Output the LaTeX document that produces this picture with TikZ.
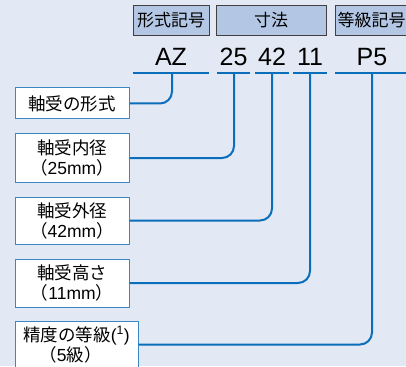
\documentclass[tikz,border=0pt]{standalone}
\usepackage{fontspec}
\setmainfont{Noto Sans CJK JP}
\newfontfamily\lat{Liberation Sans}
\definecolor{bg}{HTML}{E3E9F4}
\definecolor{hdr}{HTML}{B3C7E5}
\definecolor{ln}{HTML}{0A6EBB}
\definecolor{bx}{HTML}{3B87C6}
\begin{document}
\begin{tikzpicture}[x=1pt,y=-1pt,
  hdrbox/.style={draw=black!75, fill=hdr, line width=0.8pt, minimum height=30pt, inner sep=0pt, font=\fontsize{17}{17}\selectfont},
  code/.style={inner sep=0pt, font=\lat\fontsize{25}{25}\selectfont},
  lbl/.style={draw=bx, fill=white, line width=1pt, minimum width=114pt, inner sep=0pt, align=center, font=\fontsize{17.5}{20}\selectfont},
  uline/.style={draw=ln, line width=2pt},
  conn/.style={draw=ln, line width=2pt, rounded corners=12pt}]
\fill[bg] (0,0) rectangle (406,366);
\useasboundingbox (0,0) rectangle (406,366);
% header boxes
\node[hdrbox, minimum width=76pt] (h1) at (171,20) {形式記号};
\node[hdrbox, minimum width=110pt] (h2) at (271,20) {寸法};
\node[hdrbox, minimum width=73pt] (h3) at (371.5,20) {等級記号};
% codes
\node[code] (cAZ) at (171,57) {AZ};
\node[code] (c25) at (233.5,57) {25};
\node[code] (c42) at (272,57) {42};
\node[code] (c11) at (310,57) {11};
\node[code] (cP5) at (372,57) {P5};
% underline coordinates
\coordinate (u1l) at (133,73); \coordinate (u1r) at (209,73);
\coordinate (u2l) at (217,73); \coordinate (u2r) at (250,73);
\coordinate (u3l) at (255,73); \coordinate (u3r) at (289,73);
\coordinate (u4l) at (293,73); \coordinate (u4r) at (327,73);
\coordinate (u5l) at (335,73); \coordinate (u5r) at (407,73);
\draw[uline] (u1l) -- (u1r);
\draw[uline] (u2l) -- (u2r);
\draw[uline] (u3l) -- (u3r);
\draw[uline] (u4l) -- (u4r);
\draw[uline] (u5l) -- (u5r);
\coordinate (v1) at (172,73);
\coordinate (v2) at (234,73);
\coordinate (v3) at (272,73);
\coordinate (v4) at (310,73);
\coordinate (v5) at (372,73);
% label boxes
\node[lbl, minimum height=31pt] (b1) at (72,103.5) {軸受の形式};
\node[lbl, minimum height=48pt] (b2) at (72,158) {軸受内径\\（{\lat 25mm}）};
\node[lbl, minimum height=47pt] (b3) at (72,220.5) {軸受外径\\（{\lat 42mm}）};
\node[lbl, minimum height=48pt] (b4) at (72,283) {軸受高さ\\（{\lat 11mm}）};
\node[lbl, minimum width=123pt, minimum height=47pt] (b5) at (76.5,344.5) {精度の等級{\lat (\textsuperscript{1})}\\\hspace*{-12pt}（{\lat 5}級）};
% connectors
\draw[conn] (b1.east) -| (v1);
\draw[conn] (b2.east) -| (v2);
\draw[conn] (b3.east) -| (v3);
\draw[conn] (b4.east) -| (v4);
\draw[conn] (b5.east) -| (v5);
\end{tikzpicture}
\end{document}
